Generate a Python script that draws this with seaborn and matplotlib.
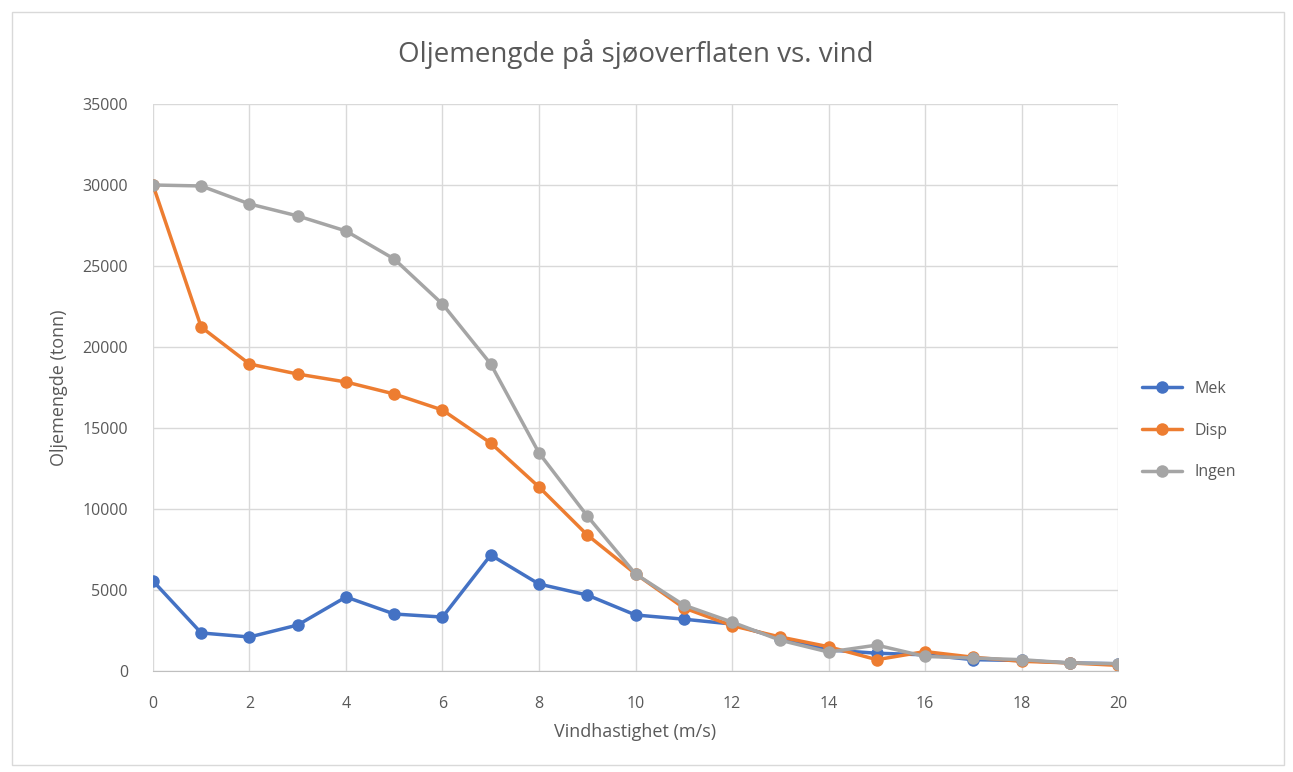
import numpy as np
import pandas as pd
import seaborn as sns
import matplotlib.pyplot as plt
from matplotlib.patches import Rectangle

sns.set_style("white")
plt.rcParams['font.family'] = ['Open Sans', 'DejaVu Sans']

vind = list(range(0, 21))
mek = [5560, 2350, 2100, 2840, 4570, 3520, 3330, 7160, 5370, 4690, 3460,
       3200, 2900, 2000, 1300, 1100, 1000, 700, 650, 500, 450]
disp = [30000, 21230, 18950, 18330, 17840, 17100, 16110, 14070, 11360, 8400, 6000,
        3900, 2800, 2100, 1500, 700, 1200, 850, 600, 500, 350]
ingen = [30000, 29940, 28830, 28090, 27160, 25430, 22650, 18950, 13460, 9570, 5990,
         4070, 3020, 1900, 1170, 1600, 900, 800, 700, 500, 450]

df = pd.DataFrame({"vind": vind, "Mek": mek, "Disp": disp, "Ingen": ingen})
df = df.melt(id_vars="vind", var_name="serie", value_name="mengde")

colors = {"Mek": "#4472C4", "Disp": "#ED7D31", "Ingen": "#A5A5A5"}
txt = "#595959"

fig = plt.figure(figsize=(12.93, 7.72), dpi=100)
ax = fig.add_axes([0.1183, 0.1308, 0.7464, 0.7345])

sns.lineplot(data=df, x="vind", y="mengde", hue="serie", palette=colors,
             hue_order=["Mek", "Disp", "Ingen"], marker="o", markersize=9,
             markeredgewidth=0, linewidth=2.5, ax=ax)

ax.set_xlim(0, 20)
ax.set_ylim(0, 35000)
ax.set_xticks(range(0, 21, 2))
ax.set_yticks(range(0, 35001, 5000))
ax.grid(True, color="#D9D9D9", linewidth=1)
ax.set_axisbelow(True)
for s in ["top", "right", "left"]:
    ax.spines[s].set_visible(False)
ax.spines["bottom"].set_color("#BFBFBF")
ax.tick_params(axis="y", length=0, labelsize=11.5, labelcolor=txt, pad=18)
ax.tick_params(axis="x", length=0, labelsize=11.5, labelcolor=txt, pad=18)

ax.set_title("Oljemengde på sjøoverflaten vs. vind", fontsize=20, color=txt, pad=30)
ax.set_xlabel("Vindhastighet (m/s)", fontsize=13, color=txt, labelpad=8)
ax.set_ylabel("Oljemengde (tonn)", fontsize=13, color=txt, labelpad=10)

leg = ax.legend(loc="center left", bbox_to_anchor=(1.01, 0.424), frameon=False,
                fontsize=11.5, labelcolor=txt, handlelength=2.5, labelspacing=1.6)

fig.patches.append(Rectangle((0.009, 0.009), 0.984, 0.976, transform=fig.transFigure,
                             fill=False, edgecolor="#D9D9D9", linewidth=1))

fig.savefig("out.png", dpi=100)
